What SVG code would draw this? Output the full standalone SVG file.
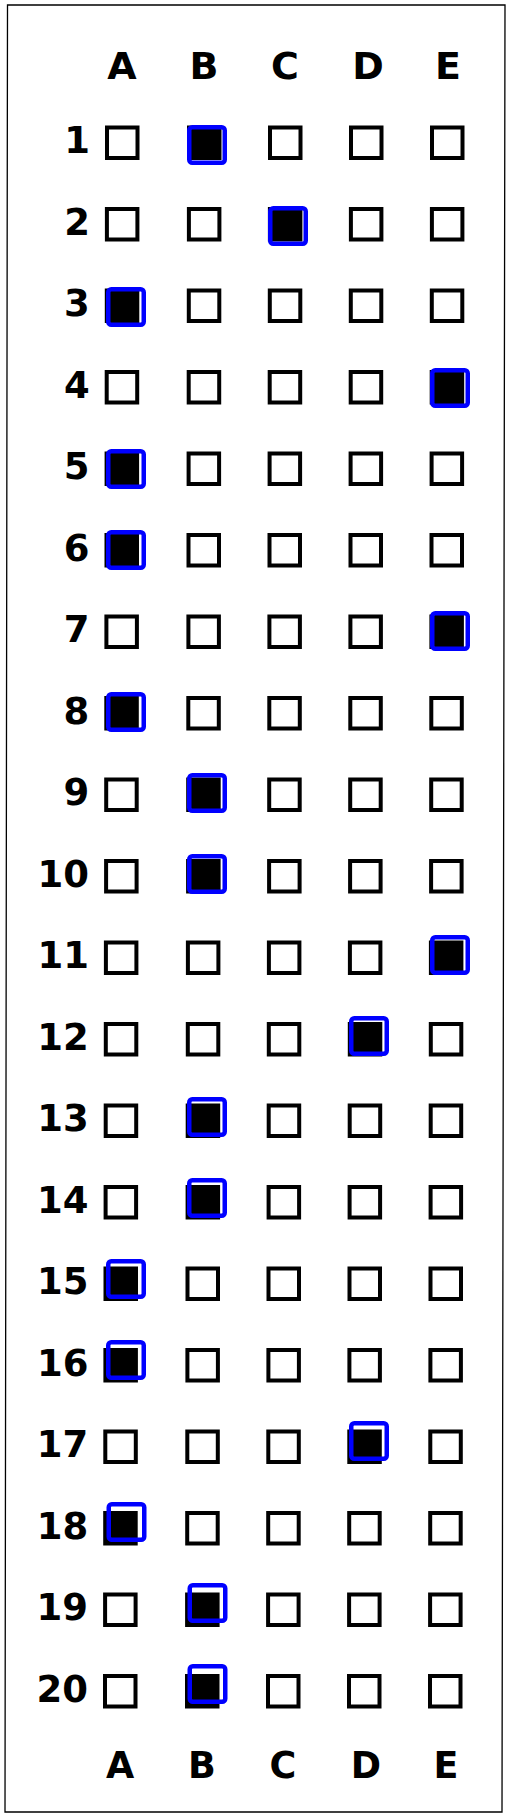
<svg xmlns="http://www.w3.org/2000/svg" xmlns:xlink="http://www.w3.org/1999/xlink" width="512" height="1818" viewBox="0 0 512 1818">
<style>
.bx{fill:none;stroke:#000;stroke-width:4}
.on{fill:#000}
.mk{fill:none;stroke:#0000ff;stroke-width:4.5}
.num{font-family:"DejaVu Sans",Verdana,sans-serif;font-weight:bold;font-size:37px;text-anchor:end;fill:#000}
.hd{font-family:"DejaVu Sans",Verdana,sans-serif;font-weight:bold;font-size:38px;text-anchor:middle;fill:#000}
.ft{font-family:"DejaVu Sans",Verdana,sans-serif;font-weight:bold;font-size:36.5px;text-anchor:middle;fill:#000}
</style>
<defs>
<rect id="b" x="2" y="2" width="30.5" height="30.5"/>
<rect id="m" x="2.25" y="2.25" width="35.5" height="35.5" rx="3"/>
</defs>
<rect width="512" height="1818" fill="#fff"/>
<polygon id="frame" points="7.5,5 505,5 502,1812 5,1812" fill="none" stroke="#000" stroke-width="1.3"/>
<g id="header">
<text class="hd" x="122" y="79">A</text><text class="hd" x="204" y="79">B</text><text class="hd" x="285" y="79">C</text><text class="hd" x="368" y="79">D</text><text class="hd" x="448" y="79">E</text>
</g>
<g id="row-1"><g transform="translate(0,125.5)"><text class="num" x="90" y="27.5">1</text><use href="#b" class="bx" x="105"/><use href="#b" class="bx on" x="187"/><use href="#b" class="bx" x="268"/><use href="#b" class="bx" x="349"/><use href="#b" class="bx" x="430"/></g><use href="#m" class="mk" x="187" y="125"/></g>
<g id="row-2"><g transform="translate(-0.1,207)"><text class="num" x="90" y="27.5">2</text><use href="#b" class="bx" x="105"/><use href="#b" class="bx" x="187"/><use href="#b" class="bx on" x="268"/><use href="#b" class="bx" x="349"/><use href="#b" class="bx" x="430"/></g><use href="#m" class="mk" x="268" y="206"/></g>
<g id="row-3"><g transform="translate(-0.2,288.5)"><text class="num" x="90" y="27.5">3</text><use href="#b" class="bx on" x="105"/><use href="#b" class="bx" x="187"/><use href="#b" class="bx" x="268"/><use href="#b" class="bx" x="349"/><use href="#b" class="bx" x="430"/></g><use href="#m" class="mk" x="106" y="287"/></g>
<g id="row-4"><g transform="translate(-0.3,370)"><text class="num" x="90" y="27.5">4</text><use href="#b" class="bx" x="105"/><use href="#b" class="bx" x="187"/><use href="#b" class="bx" x="268"/><use href="#b" class="bx" x="349"/><use href="#b" class="bx on" x="430"/></g><use href="#m" class="mk" x="430" y="368"/></g>
<g id="row-5"><g transform="translate(-0.4,451.5)"><text class="num" x="90" y="27.5">5</text><use href="#b" class="bx on" x="105"/><use href="#b" class="bx" x="187"/><use href="#b" class="bx" x="268"/><use href="#b" class="bx" x="349"/><use href="#b" class="bx" x="430"/></g><use href="#m" class="mk" x="106" y="449"/></g>
<g id="row-6"><g transform="translate(-0.5,533)"><text class="num" x="90" y="27.5">6</text><use href="#b" class="bx on" x="105"/><use href="#b" class="bx" x="187"/><use href="#b" class="bx" x="268"/><use href="#b" class="bx" x="349"/><use href="#b" class="bx" x="430"/></g><use href="#m" class="mk" x="106" y="530"/></g>
<g id="row-7"><g transform="translate(-0.6,614.5)"><text class="num" x="90" y="27.5">7</text><use href="#b" class="bx" x="105"/><use href="#b" class="bx" x="187"/><use href="#b" class="bx" x="268"/><use href="#b" class="bx" x="349"/><use href="#b" class="bx on" x="430"/></g><use href="#m" class="mk" x="430" y="611"/></g>
<g id="row-8"><g transform="translate(-0.7,696)"><text class="num" x="90" y="27.5">8</text><use href="#b" class="bx on" x="105"/><use href="#b" class="bx" x="187"/><use href="#b" class="bx" x="268"/><use href="#b" class="bx" x="349"/><use href="#b" class="bx" x="430"/></g><use href="#m" class="mk" x="106" y="692"/></g>
<g id="row-9"><g transform="translate(-0.8,777.5)"><text class="num" x="90" y="27.5">9</text><use href="#b" class="bx" x="105"/><use href="#b" class="bx on" x="187"/><use href="#b" class="bx" x="268"/><use href="#b" class="bx" x="349"/><use href="#b" class="bx" x="430"/></g><use href="#m" class="mk" x="187" y="773"/></g>
<g id="row-10"><g transform="translate(-0.9,859)"><text class="num" x="90" y="27.5">10</text><use href="#b" class="bx" x="105"/><use href="#b" class="bx on" x="187"/><use href="#b" class="bx" x="268"/><use href="#b" class="bx" x="349"/><use href="#b" class="bx" x="430"/></g><use href="#m" class="mk" x="187" y="854"/></g>
<g id="row-11"><g transform="translate(-1.1,940.5)"><text class="num" x="90" y="27.5">11</text><use href="#b" class="bx" x="105"/><use href="#b" class="bx" x="187"/><use href="#b" class="bx" x="268"/><use href="#b" class="bx" x="349"/><use href="#b" class="bx on" x="430"/></g><use href="#m" class="mk" x="430" y="935"/></g>
<g id="row-12"><g transform="translate(-1.2,1022)"><text class="num" x="90" y="27.5">12</text><use href="#b" class="bx" x="105"/><use href="#b" class="bx" x="187"/><use href="#b" class="bx" x="268"/><use href="#b" class="bx on" x="349"/><use href="#b" class="bx" x="430"/></g><use href="#m" class="mk" x="349" y="1016"/></g>
<g id="row-13"><g transform="translate(-1.3,1103.5)"><text class="num" x="90" y="27.5">13</text><use href="#b" class="bx" x="105"/><use href="#b" class="bx on" x="187"/><use href="#b" class="bx" x="268"/><use href="#b" class="bx" x="349"/><use href="#b" class="bx" x="430"/></g><use href="#m" class="mk" x="187" y="1097"/></g>
<g id="row-14"><g transform="translate(-1.4,1185)"><text class="num" x="90" y="27.5">14</text><use href="#b" class="bx" x="105"/><use href="#b" class="bx on" x="187"/><use href="#b" class="bx" x="268"/><use href="#b" class="bx" x="349"/><use href="#b" class="bx" x="430"/></g><use href="#m" class="mk" x="187" y="1178"/></g>
<g id="row-15"><g transform="translate(-1.5,1266.5)"><text class="num" x="90" y="27.5">15</text><use href="#b" class="bx on" x="105"/><use href="#b" class="bx" x="187"/><use href="#b" class="bx" x="268"/><use href="#b" class="bx" x="349"/><use href="#b" class="bx" x="430"/></g><use href="#m" class="mk" x="106" y="1259"/></g>
<g id="row-16"><g transform="translate(-1.6,1348)"><text class="num" x="90" y="27.5">16</text><use href="#b" class="bx on" x="105"/><use href="#b" class="bx" x="187"/><use href="#b" class="bx" x="268"/><use href="#b" class="bx" x="349"/><use href="#b" class="bx" x="430"/></g><use href="#m" class="mk" x="106" y="1340"/></g>
<g id="row-17"><g transform="translate(-1.7,1429.5)"><text class="num" x="90" y="27.5">17</text><use href="#b" class="bx" x="105"/><use href="#b" class="bx" x="187"/><use href="#b" class="bx" x="268"/><use href="#b" class="bx on" x="349"/><use href="#b" class="bx" x="430"/></g><use href="#m" class="mk" x="349" y="1421"/></g>
<g id="row-18"><g transform="translate(-1.8,1511)"><text class="num" x="90" y="27.5">18</text><use href="#b" class="bx on" x="105"/><use href="#b" class="bx" x="187"/><use href="#b" class="bx" x="268"/><use href="#b" class="bx" x="349"/><use href="#b" class="bx" x="430"/></g><use href="#m" class="mk" x="106.5" y="1502"/></g>
<g id="row-19"><g transform="translate(-1.9,1592.5)"><text class="num" x="90" y="27.5">19</text><use href="#b" class="bx" x="105"/><use href="#b" class="bx on" x="187"/><use href="#b" class="bx" x="268"/><use href="#b" class="bx" x="349"/><use href="#b" class="bx" x="430"/></g><use href="#m" class="mk" x="187.5" y="1583"/></g>
<g id="row-20"><g transform="translate(-2,1674)"><text class="num" x="90" y="27.5">20</text><use href="#b" class="bx" x="105"/><use href="#b" class="bx on" x="187"/><use href="#b" class="bx" x="268"/><use href="#b" class="bx" x="349"/><use href="#b" class="bx" x="430"/></g><use href="#m" class="mk" x="187.5" y="1664"/></g>
<g id="footer">
<text class="ft" x="120" y="1778">A</text><text class="ft" x="202" y="1778">B</text><text class="ft" x="283" y="1778">C</text><text class="ft" x="366" y="1778">D</text><text class="ft" x="446" y="1778">E</text>
</g>
</svg>
